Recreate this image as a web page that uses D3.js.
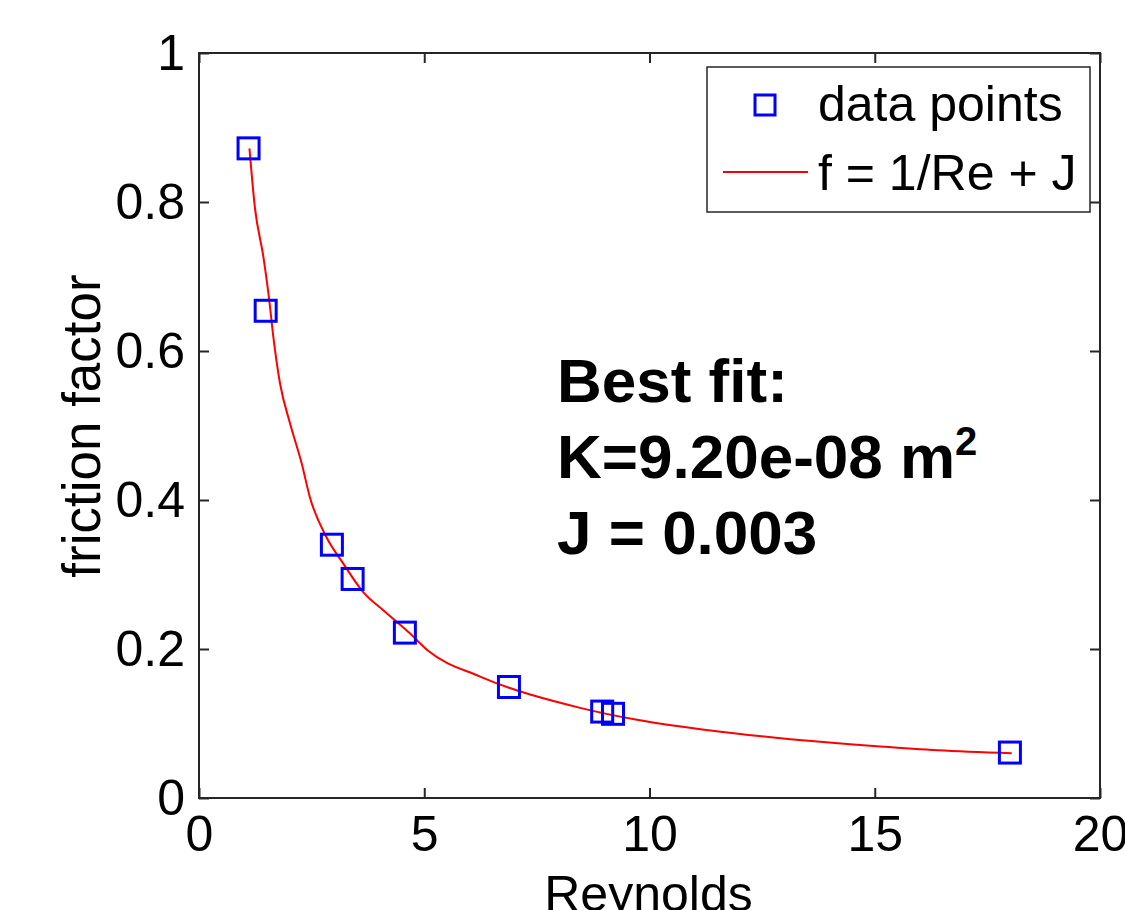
<!DOCTYPE html>
<html>
<head>
<meta charset="utf-8">
<script src="https://cdn.jsdelivr.net/npm/d3@7"></script>
<style>
  body { margin: 0; background: #fff; }
  svg { display: block; font-family: "Liberation Sans", Arial, sans-serif; }
</style>
</head>
<body>
<div id="chart"></div>
<script>
var width = 1125,
    height = 910;

var margin = { top: 53, right: 25, bottom: 112, left: 199 };

// measured points
var reynolds = [1.10, 1.48, 2.95, 3.41, 4.57, 6.88, 8.95, 9.19, 18.0];
var friction = [0.872, 0.654, 0.340, 0.294, 0.222, 0.149, 0.116, 0.113, 0.061];

// fitted curve
var fitRe = [1.12, 1.24, 1.43, 1.56, 1.65, 1.80, 2.02, 2.28, 2.46, 2.83, 3.20, 3.65,
             4.09, 4.68, 5.08, 6.24, 8.46, 9.72, 11.31, 13.13, 14.45, 15.12, 16.40, 18.04];
var fitF = [0.872, 0.793, 0.726, 0.668, 0.619, 0.556, 0.503, 0.449, 0.404, 0.350, 0.315, 0.276,
            0.252, 0.221, 0.198, 0.163, 0.121, 0.105, 0.091, 0.079, 0.072, 0.069, 0.064, 0.060];

var xTicks = [0, 5, 10, 15, 20];
var yTicks = [0, 0.2, 0.4, 0.6, 0.8, 1];
var yTickLabels = ["0", "0.2", "0.4", "0.6", "0.8", "1"];

var legendLabels = ["data points", "f = 1/Re + J"];
var noteLines = ["Best fit:", "K=9.20e-08 m", "J = 0.003"];

var colors = { blue: "#0000ff", red: "#ff0000", axis: "#262626" };

var pw = width - margin.left - margin.right,
    ph = height - margin.top - margin.bottom;

var x = d3.scaleLinear().domain([0, 20]).range([0, pw]);
var y = d3.scaleLinear().domain([0, 1]).range([ph, 0]);

var svg = d3.select("#chart").append("svg")
    .attr("width", width)
    .attr("height", height);

var g = svg.append("g").attr("transform", "translate(" + margin.left + "," + margin.top + ")");

var styleAxis = function(sel) {
  sel.select(".domain").remove();
  sel.selectAll(".tick line").attr("stroke", colors.axis).attr("stroke-width", 2);
  sel.selectAll(".tick text").attr("fill", "#000").style("font-size", "50px");
};

g.append("g").attr("transform", "translate(0," + ph + ")")
  .call(d3.axisBottom(x).tickValues(xTicks).tickSize(-10).tickPadding(17).tickFormat(d3.format("d")))
  .call(styleAxis);
g.append("g")
  .call(d3.axisTop(x).tickValues(xTicks).tickSize(-10).tickFormat(""))
  .call(styleAxis);
g.append("g")
  .call(d3.axisLeft(y).tickValues(yTicks).tickSize(-10).tickPadding(14)
          .tickFormat(function(d, i) { return yTickLabels[i]; }))
  .call(styleAxis);
g.append("g").attr("transform", "translate(" + pw + ",0)")
  .call(d3.axisRight(y).tickValues(yTicks).tickSize(-10).tickFormat(""))
  .call(styleAxis);

g.append("rect")
  .attr("width", pw).attr("height", ph)
  .attr("fill", "none").attr("stroke", colors.axis).attr("stroke-width", 2);

// fit line
var line = d3.line()
  .x(function(d, i) { return x(fitRe[i]); })
  .y(function(d) { return y(d); })
  .curve(d3.curveMonotoneX);

g.append("path")
  .datum(fitF)
  .attr("d", line)
  .attr("fill", "none")
  .attr("stroke", colors.red)
  .attr("stroke-width", 2);

// data squares
var sq = 21;
g.selectAll("rect.pt")
  .data(friction)
  .enter().append("rect")
  .attr("class", "pt")
  .attr("x", function(d, i) { return x(reynolds[i]) - sq / 2; })
  .attr("y", function(d) { return y(d) - sq / 2; })
  .attr("width", sq).attr("height", sq)
  .attr("fill", "none")
  .attr("stroke", colors.blue)
  .attr("stroke-width", 3);

// axis titles
svg.append("text")
  .attr("x", margin.left + x(10) - 1)
  .attr("y", 911)
  .attr("text-anchor", "middle")
  .style("font-size", "50px")
  .text("Reynolds");

svg.append("text")
  .attr("transform", "translate(100,426) rotate(-90)")
  .attr("text-anchor", "middle")
  .style("font-size", "53px")
  .text("friction factor");

// legend
var legend = svg.append("g");
legend.append("rect")
  .attr("x", 707).attr("y", 67)
  .attr("width", 383).attr("height", 145)
  .attr("fill", "#fff").attr("stroke", colors.axis).attr("stroke-width", 1.5);
legend.append("rect")
  .attr("x", 765 - 10).attr("y", 105 - 10)
  .attr("width", 20).attr("height", 20)
  .attr("fill", "none").attr("stroke", colors.blue).attr("stroke-width", 3);
legend.append("line")
  .attr("x1", 723).attr("x2", 808).attr("y1", 172).attr("y2", 172)
  .attr("stroke", colors.red).attr("stroke-width", 2);
legend.selectAll("text.lg")
  .data(legendLabels)
  .enter().append("text")
  .attr("class", "lg")
  .attr("x", 818)
  .attr("y", function(d, i) { return i == 0 ? 121 : 190; })
  .style("font-size", "50px")
  .text(function(d) { return d; });

// note
var note = svg.append("g").style("font-weight", "bold").style("font-size", "62px");
noteLines.forEach(function(t, i) {
  var txt = note.append("text")
    .attr("x", 557)
    .attr("y", 402 + i * 76)
    .text(t);
  if (i == 1) {
    txt.append("tspan")
      .attr("dy", -23)
      .style("font-size", "40px")
      .text("2");
  }
});
</script>
</body>
</html>
